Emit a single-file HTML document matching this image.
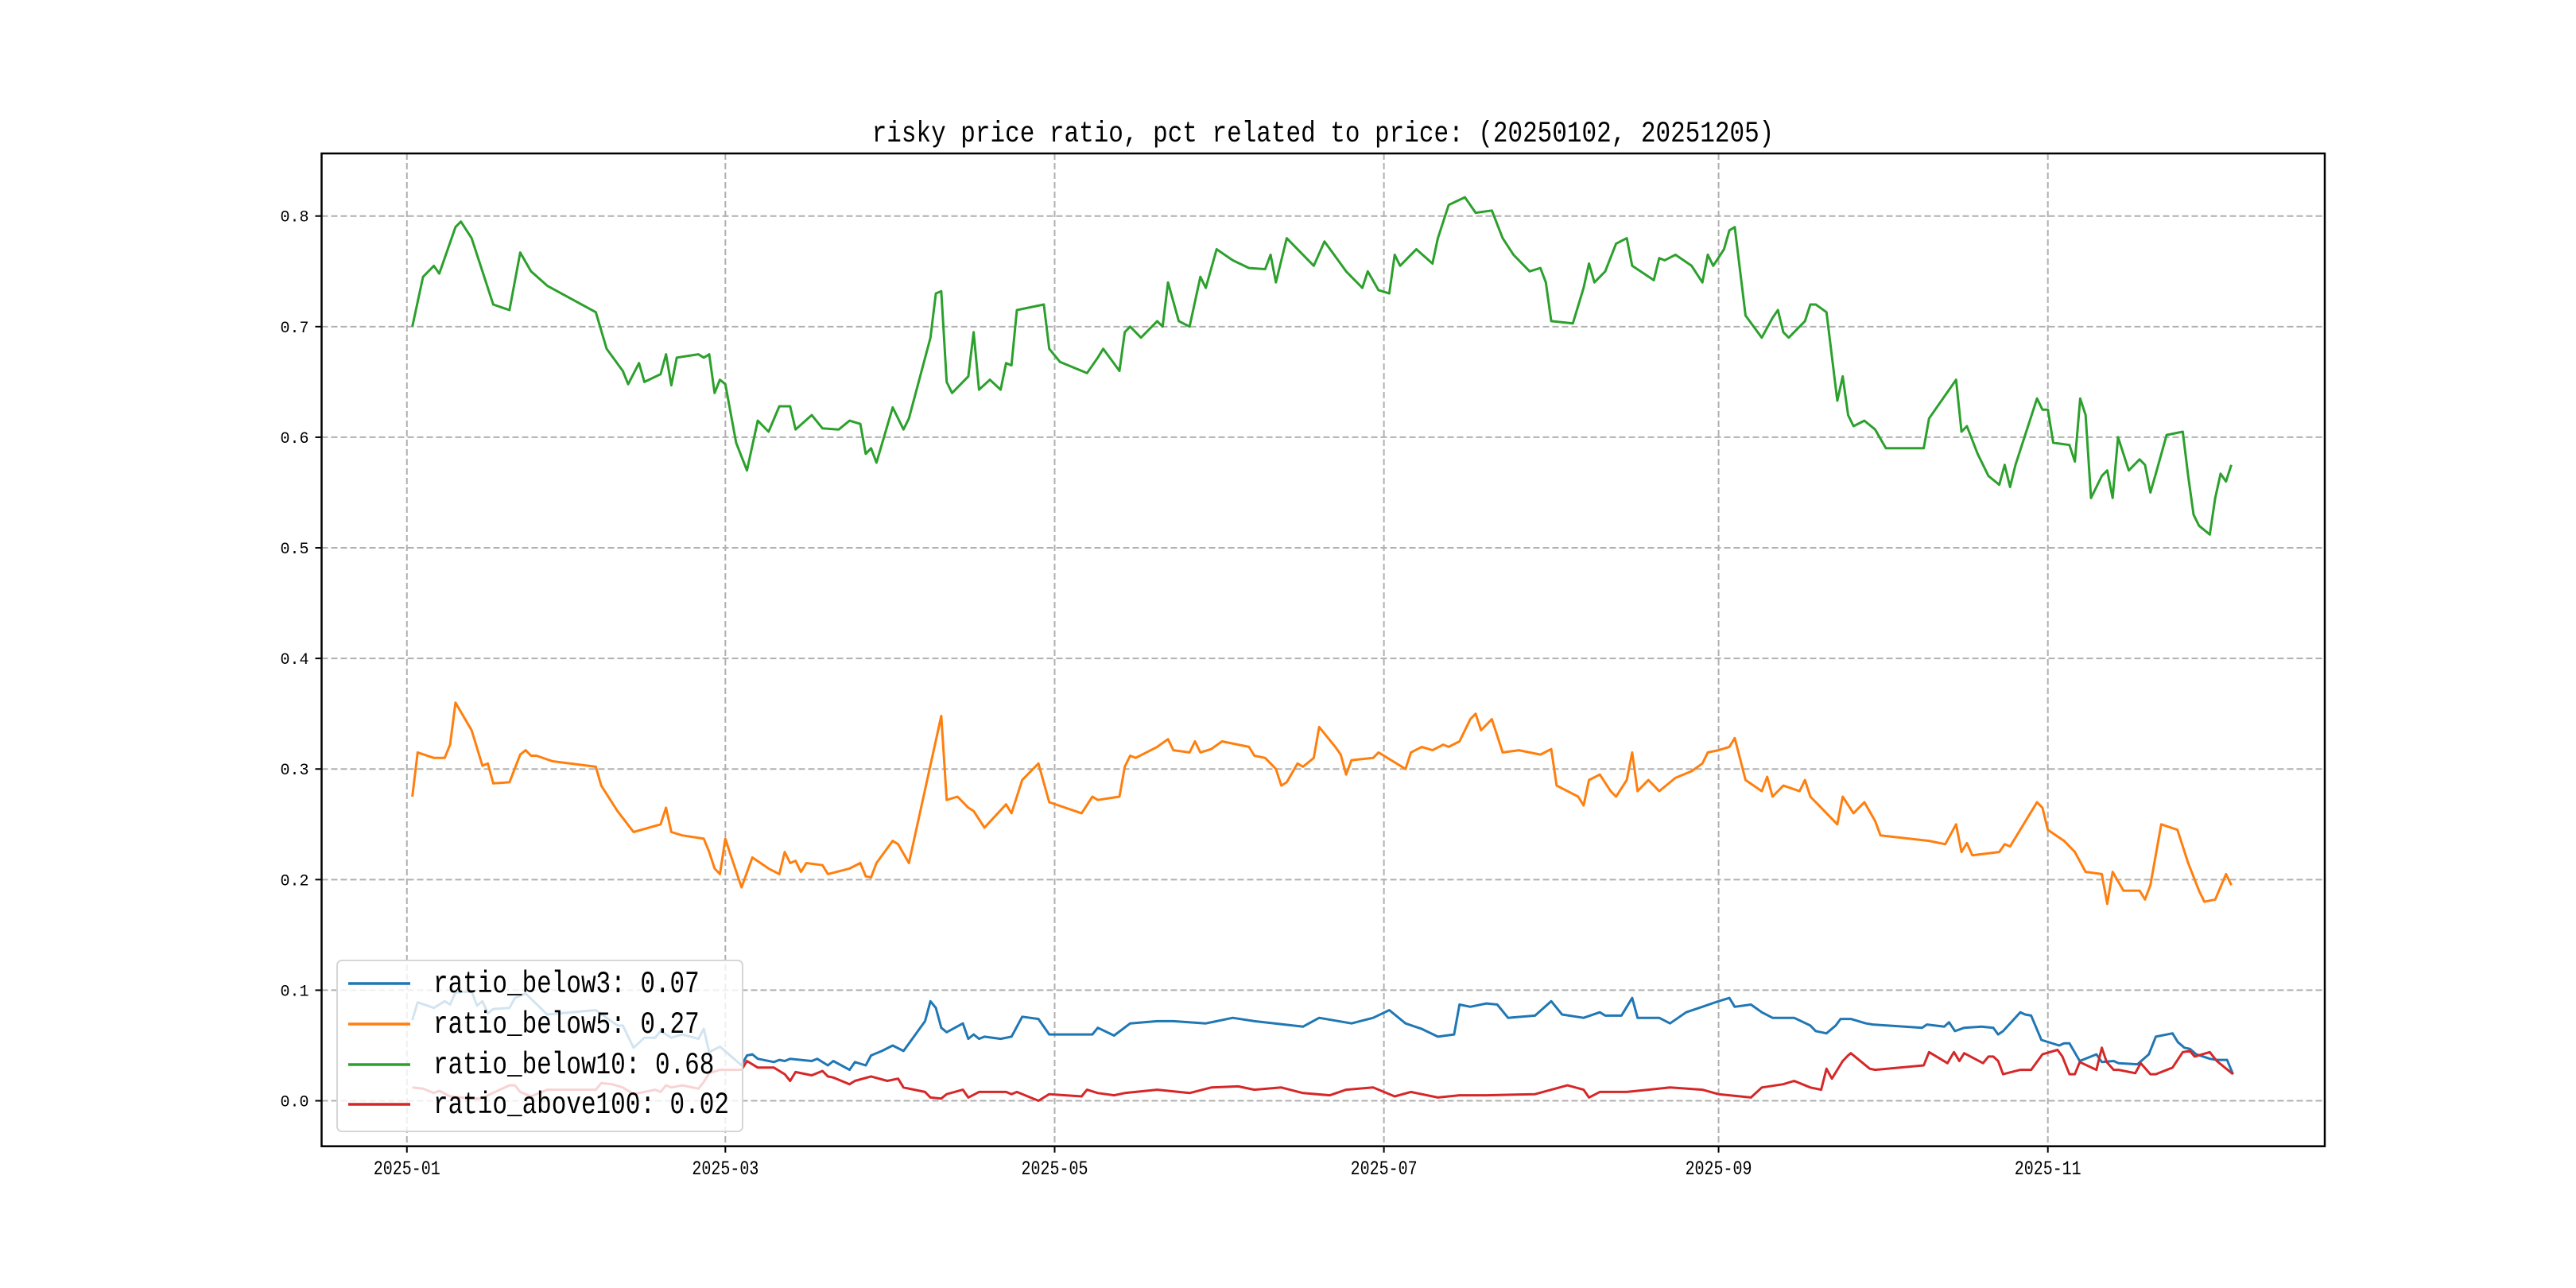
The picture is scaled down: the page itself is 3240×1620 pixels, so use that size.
<!DOCTYPE html>
<html><head><meta charset="utf-8"><style>
html,body{margin:0;padding:0;background:#fff;}
svg{display:block;}
</style></head><body>
<svg id="chart" xmlns="http://www.w3.org/2000/svg" width="3240" height="1620" viewBox="0 0 3240 1620">
<rect x="0" y="0" width="3240" height="1620" fill="#fff"/>
<text x="1664" y="178" text-anchor="middle" font-family="Liberation Mono, monospace" font-size="31" fill="#000" transform="translate(1664,178) scale(1,1.2) translate(-1664,-178)">risky price ratio, pct related to price: (20250102, 20251205)</text>
<g id="grid"></g>
<g id="series"></g>
<rect x="404.5" y="193" width="2519.5" height="1248.7" fill="none" stroke="#000" stroke-width="2.5"/>
<g id="ticks"></g>
<g id="legend"></g>
</svg>
<script>
// ---- data (day offsets from 2025-01-01) ----
const xTickLabels = ["2025-01","2025-03","2025-05","2025-07","2025-09","2025-11"];
const xTickDays = [0,59,120,181,243,304];
const yTickValues = [0.0,0.1,0.2,0.3,0.4,0.5,0.6,0.7,0.8];
const seriesNames = ["ratio_below3: 0.07","ratio_below5: 0.27","ratio_below10: 0.68","ratio_above100: 0.02"];
const seriesColors = ["#1f77b4","#ff7f0e","#2ca02c","#d62728"];

const below10Days = [1,3,5,6,9,10,12,14,16,19,21,23,26,35,37,40,41,43,44,47,48,49,50,54,55,56,57,58,59,61,63,65,67,69,71,72,75,77,80,82,84,85,86,87,90,92,93,97,98,99,100,101,104,105,106,108,110,111,112,113,118,119,121,126,128,129,132,133,134,136,139,140,141,143,145,147,148,150,153,156,159,160,161,163,168,170,174,176,177,178,180,182,183,184,187,190,191,193,196,198,201,203,205,208,210,211,212,216,218,219,220,222,224,226,227,231,232,233,235,238,240,241,242,244,245,246,248,251,253,254,255,256,259,260,261,263,265,266,267,268,270,272,274,281,282,287,288,289,291,293,295,296,297,298,302,303,304,305,308,309,310,311,312,314,315,316,317,319,321,322,323,324,326,329,330,331,332,334,335,336,337,338];
const below10Vals = [0.70,0.745,0.755,0.748,0.79,0.795,0.78,0.75,0.72,0.715,0.767,0.75,0.737,0.713,0.68,0.66,0.648,0.667,0.65,0.657,0.675,0.647,0.672,0.675,0.672,0.675,0.64,0.652,0.648,0.595,0.57,0.615,0.605,0.628,0.628,0.607,0.62,0.608,0.607,0.615,0.612,0.585,0.59,0.577,0.627,0.607,0.617,0.69,0.73,0.732,0.65,0.64,0.655,0.695,0.643,0.652,0.643,0.667,0.665,0.715,0.72,0.68,0.668,0.658,0.672,0.68,0.66,0.695,0.70,0.69,0.705,0.70,0.74,0.705,0.70,0.745,0.735,0.77,0.76,0.753,0.752,0.765,0.74,0.78,0.755,0.777,0.75,0.74,0.735,0.75,0.733,0.73,0.765,0.755,0.77,0.757,0.78,0.81,0.817,0.803,0.805,0.78,0.765,0.75,0.753,0.74,0.705,0.703,0.735,0.757,0.74,0.75,0.775,0.78,0.755,0.742,0.762,0.76,0.765,0.755,0.74,0.765,0.755,0.77,0.787,0.79,0.71,0.69,0.708,0.715,0.695,0.69,0.705,0.72,0.72,0.713,0.633,0.655,0.62,0.61,0.615,0.607,0.59,0.59,0.617,0.652,0.605,0.61,0.585,0.565,0.557,0.575,0.555,0.575,0.635,0.625,0.625,0.595,0.593,0.578,0.635,0.62,0.545,0.565,0.57,0.545,0.60,0.57,0.58,0.575,0.55,0.567,0.602,0.605,0.565,0.53,0.52,0.512,0.545,0.567,0.56,0.575];

const below5Days = [1,2,5,7,8,9,12,14,15,16,19,21,22,23,24,27,35,36,39,42,47,48,49,51,55,56,57,58,59,60,62,64,67,69,70,71,72,73,74,77,78,82,84,85,86,87,90,91,93,99,100,102,104,105,107,111,112,114,117,119,125,127,128,132,133,134,135,139,141,142,145,146,147,149,151,156,157,159,161,162,163,165,166,168,169,172,173,174,175,179,180,185,186,188,190,192,193,195,197,198,199,201,203,206,210,212,213,217,218,219,221,223,224,226,227,228,230,232,235,238,240,241,243,245,246,248,251,252,253,255,258,259,260,262,265,266,268,270,272,273,282,285,287,288,289,290,295,296,297,302,303,304,307,309,311,314,315,316,318,321,322,323,325,328,330,332,333,335,337,338];
const below5Vals = [0.275,0.315,0.31,0.31,0.322,0.36,0.335,0.303,0.305,0.287,0.288,0.313,0.317,0.312,0.312,0.307,0.302,0.285,0.262,0.243,0.25,0.265,0.243,0.24,0.237,0.225,0.21,0.205,0.237,0.222,0.193,0.22,0.21,0.205,0.225,0.215,0.217,0.207,0.215,0.213,0.205,0.21,0.215,0.203,0.202,0.215,0.235,0.232,0.215,0.348,0.272,0.275,0.265,0.262,0.247,0.268,0.26,0.29,0.305,0.27,0.26,0.275,0.272,0.275,0.302,0.312,0.31,0.32,0.327,0.317,0.315,0.325,0.315,0.318,0.325,0.32,0.312,0.31,0.30,0.285,0.288,0.305,0.302,0.31,0.338,0.32,0.313,0.295,0.308,0.31,0.315,0.30,0.315,0.32,0.317,0.322,0.32,0.325,0.345,0.35,0.335,0.345,0.315,0.317,0.313,0.318,0.285,0.275,0.267,0.29,0.295,0.28,0.275,0.29,0.315,0.28,0.29,0.28,0.292,0.298,0.305,0.315,0.317,0.32,0.328,0.29,0.28,0.293,0.275,0.285,0.28,0.29,0.275,0.265,0.25,0.275,0.26,0.27,0.253,0.24,0.235,0.232,0.25,0.225,0.233,0.222,0.225,0.232,0.23,0.27,0.265,0.245,0.235,0.225,0.207,0.205,0.178,0.207,0.19,0.19,0.182,0.195,0.25,0.245,0.215,0.19,0.18,0.182,0.205,0.195];

const below3Days = [1,2,5,7,8,9,12,13,14,15,16,19,20,22,26,35,39,40,42,44,46,47,49,51,54,55,56,58,62,63,64,65,68,69,70,71,75,76,78,79,82,83,85,86,88,90,92,96,97,98,99,100,103,104,105,106,107,110,112,114,117,119,127,128,131,134,139,142,148,153,157,166,169,175,179,182,185,188,191,194,195,197,200,202,204,209,212,214,218,221,222,225,227,228,232,234,237,240,243,245,246,249,251,253,257,260,261,263,264.7,265.6,267.5,270.3,271.6,280.7,281.6,284.8,285.7,286.8,288.5,291.7,293.9,294.8,295.7,298.9,299.8,300.9,302.8,306.1,307,308,309.9,313,314,316.2,317.1,320.6,322.7,324,327.1,328.1,329.3,330.3,331.5,334,335.3,337.2,338.3];
const below3Vals = [0.073,0.089,0.084,0.09,0.087,0.098,0.099,0.086,0.09,0.079,0.083,0.084,0.093,0.097,0.078,0.082,0.068,0.068,0.048,0.057,0.057,0.063,0.057,0.06,0.056,0.065,0.044,0.049,0.032,0.041,0.042,0.038,0.035,0.037,0.036,0.038,0.036,0.038,0.032,0.036,0.028,0.035,0.032,0.041,0.045,0.05,0.045,0.072,0.09,0.084,0.066,0.062,0.07,0.056,0.06,0.056,0.058,0.056,0.058,0.076,0.074,0.06,0.06,0.066,0.059,0.07,0.072,0.072,0.07,0.075,0.072,0.067,0.075,0.07,0.075,0.082,0.07,0.065,0.058,0.06,0.087,0.085,0.088,0.087,0.075,0.077,0.09,0.078,0.075,0.08,0.077,0.077,0.093,0.075,0.075,0.07,0.08,0.085,0.09,0.093,0.085,0.087,0.08,0.075,0.075,0.068,0.063,0.061,0.068,0.074,0.074,0.07,0.069,0.066,0.069,0.067,0.071,0.063,0.066,0.067,0.066,0.06,0.063,0.08,0.078,0.077,0.055,0.05,0.052,0.052,0.036,0.042,0.035,0.036,0.034,0.033,0.042,0.058,0.061,0.053,0.048,0.047,0.042,0.038,0.037,0.037,0.024];

const above100Days = [1,3,5,6,8,12,14,15,19,20,21,23,26,35,36,38,40,42,46,47,48,49,51,54,55,56,58,62,63,65,68,70,71,72,74,75,77,78,79,82,83,86,89,91,92,96,97,99,100,103,104,106,111,112,113,117,119,125,126,128,131,133,139,145,149,154,157,162,166,171,174,179,183,186,191,195,200,209,215,218,219,221,226,230,234,240,243,249,251,255,257,260,262,263,264,266,267,267.5,271,272,281,282,285.4,286.6,287.6,288.5,292,293,293.9,294.8,295.7,298.9,300.9,303,305.8,306.7,308,309,309.9,313,314,314.9,316.2,317.1,320.2,321.2,323,324,327.1,329,330.3,331.2,334,335.3,338.3];
const above100Vals = [0.012,0.011,0.007,0.009,0.004,0.002,0.002,0.005,0.014,0.014,0.008,0.004,0.01,0.01,0.016,0.015,0.012,0.006,0.01,0.008,0.014,0.012,0.014,0.011,0.017,0.025,0.028,0.028,0.036,0.03,0.03,0.024,0.018,0.026,0.024,0.023,0.027,0.022,0.021,0.015,0.018,0.022,0.018,0.02,0.012,0.008,0.003,0.002,0.006,0.01,0.003,0.008,0.008,0.006,0.008,0.0,0.006,0.004,0.01,0.007,0.005,0.007,0.01,0.007,0.012,0.013,0.01,0.012,0.007,0.005,0.01,0.012,0.004,0.008,0.003,0.005,0.005,0.006,0.014,0.01,0.003,0.008,0.008,0.01,0.012,0.01,0.006,0.003,0.012,0.015,0.018,0.012,0.01,0.029,0.02,0.036,0.041,0.043,0.029,0.028,0.032,0.044,0.034,0.044,0.036,0.043,0.034,0.04,0.04,0.036,0.024,0.028,0.028,0.042,0.046,0.04,0.024,0.024,0.035,0.028,0.048,0.035,0.028,0.028,0.025,0.034,0.024,0.024,0.03,0.044,0.045,0.04,0.044,0.036,0.024];

// ---- axes ----
const X0 = 404.5, X1 = 2924, Y0 = 193, Y1 = 1441.7;
const DMIN = -15.8, DMAX = 355.3, VMIN = -0.0411, VMAX = 0.8566;
function xs(d){ return X0 + (d - DMIN) / (DMAX - DMIN) * (X1 - X0); }
function ys(v){ return Y1 - (v - VMIN) / (VMAX - VMIN) * (Y1 - Y0); }

const NS = "http://www.w3.org/2000/svg";
const grid = document.getElementById('grid');
const ticks = document.getElementById('ticks');
const seriesG = document.getElementById('series');
const legend = document.getElementById('legend');

yTickValues.forEach(function(v){
  const y = ys(v);
  const gl = document.createElementNS(NS,'line');
  
  
  gl.setAttribute('x1', X0); gl.setAttribute('x2', X1);
  gl.setAttribute('y1', y); gl.setAttribute('y2', y);
  gl.setAttribute('stroke', '#b0b0b0'); gl.setAttribute('stroke-width', '2');
  gl.setAttribute('stroke-dasharray', '8,4');
  grid.appendChild(gl);
  const tk = document.createElementNS(NS,'line');
  
  
  tk.setAttribute('x1', X0 - 8); tk.setAttribute('x2', X0);
  tk.setAttribute('y1', y); tk.setAttribute('y2', y);
  tk.setAttribute('stroke', '#000'); tk.setAttribute('stroke-width', '2');
  ticks.appendChild(tk);
  const tl = document.createElementNS(NS,'text');
  
  
  tl.setAttribute('x', X0 - 16); tl.setAttribute('y', y + 7);
  tl.setAttribute('text-anchor', 'end');
  tl.setAttribute('font-family', 'Liberation Mono, monospace');
  tl.setAttribute('font-size', '20');
  tl.textContent = v.toFixed(1);
  ticks.appendChild(tl);
});

xTickDays.forEach(function(d, i){
  const x = xs(d);
  const gl = document.createElementNS(NS,'line');
  
  
  gl.setAttribute('x1', x); gl.setAttribute('x2', x);
  gl.setAttribute('y1', Y0); gl.setAttribute('y2', Y1);
  gl.setAttribute('stroke', '#b0b0b0'); gl.setAttribute('stroke-width', '2');
  gl.setAttribute('stroke-dasharray', '8,4');
  grid.appendChild(gl);
  const tk = document.createElementNS(NS,'line');
  
  
  tk.setAttribute('x1', x); tk.setAttribute('x2', x);
  tk.setAttribute('y1', Y1); tk.setAttribute('y2', Y1 + 8);
  tk.setAttribute('stroke', '#000'); tk.setAttribute('stroke-width', '2');
  ticks.appendChild(tk);
  const tl = document.createElementNS(NS,'text');
  
  
  tl.setAttribute('x', x); tl.setAttribute('y', 1477);
  tl.setAttribute('text-anchor', 'middle');
  tl.setAttribute('font-family', 'Liberation Mono, monospace');
  tl.setAttribute('font-size', '20');
  tl.setAttribute('transform', 'translate(' + x + ',1477) scale(1,1.25) translate(' + (-x) + ',-1477)');
  tl.textContent = xTickLabels[i];
  ticks.appendChild(tl);
});

const allDays = [below3Days, below5Days, below10Days, above100Days];
const allVals = [below3Vals, below5Vals, below10Vals, above100Vals];
const lineNames = ['line-ratio-below3','line-ratio-below5','line-ratio-below10','line-ratio-above100'];
allDays.forEach(function(days, s){
  const vals = allVals[s];
  let d = '';
  for (let i = 0; i < days.length && i < vals.length; i++){
    d += (i ? 'L' : 'M') + xs(days[i]).toFixed(1) + ' ' + ys(vals[i]).toFixed(1);
  }
  const p = document.createElementNS(NS,'path');
  
  
  p.setAttribute('d', d);
  p.setAttribute('fill', 'none');
  p.setAttribute('stroke', seriesColors[s]);
  p.setAttribute('stroke-width', '3');
  p.setAttribute('stroke-linejoin', 'round');
  seriesG.appendChild(p);
});

// legend
const lb = document.createElementNS(NS,'rect');


lb.setAttribute('x', 424); lb.setAttribute('y', 1208);
lb.setAttribute('width', 510); lb.setAttribute('height', 215);
lb.setAttribute('rx', 6);
lb.setAttribute('fill', 'rgba(255,255,255,0.8)');
lb.setAttribute('stroke', '#d6d6d6'); lb.setAttribute('stroke-width', '2');
legend.appendChild(lb);
const legendRowY = [1237, 1288, 1339, 1389];
seriesNames.forEach(function(name, i){
  const y = legendRowY[i];
  const ln = document.createElementNS(NS,'line');
  
  
  ln.setAttribute('x1', 438); ln.setAttribute('x2', 516);
  ln.setAttribute('y1', y); ln.setAttribute('y2', y);
  ln.setAttribute('stroke', seriesColors[i]); ln.setAttribute('stroke-width', '3.5');
  legend.appendChild(ln);
  const tx = document.createElementNS(NS,'text');
  
  
  tx.setAttribute('x', 545); tx.setAttribute('y', y + 11);
  tx.setAttribute('font-family', 'Liberation Mono, monospace');
  tx.setAttribute('font-size', '31');
  tx.setAttribute('transform', 'translate(545,' + (y + 11) + ') scale(1,1.25) translate(-545,' + (-(y + 11)) + ')');
  tx.textContent = name;
  legend.appendChild(tx);
});
</script>
</body></html>
